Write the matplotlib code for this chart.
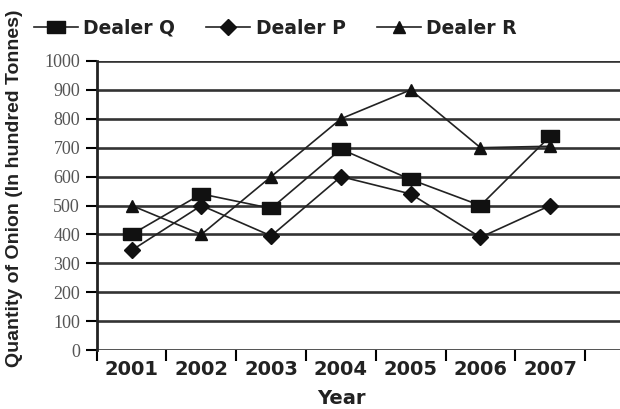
import matplotlib
matplotlib.use("Agg")
import matplotlib.pyplot as plt
from matplotlib.font_manager import FontProperties

years = ["2001", "2002", "2003", "2004", "2005", "2006", "2007"]
dealer_q = [400, 540, 490, 695, 590, 500, 740]
dealer_p = [345, 500, 395, 600, 540, 390, 500]
dealer_r = [500, 400, 600, 800, 900, 700, 705]

W, H = 620, 409
fig = plt.figure(figsize=(6.2, 4.09), dpi=100)
ax = fig.add_axes([0.156, 0.144, 0.844, 0.707])

x = list(range(len(years)))

# horizontal grid lines
for v in range(0, 1001, 100):
    ax.axhline(v, color="#333333", linewidth=1.9, zorder=1)

rect = [(-1.6, -1), (1.6, -1), (1.6, 1), (-1.6, 1), (-1.6, -1)]
ax.plot(x, dealer_q, color="#222222", lw=1.2, marker=rect, ms=13, mfc="#111111",
        mec="#111111", label="Dealer Q", zorder=3)
ax.plot(x, dealer_p, color="#222222", lw=1.2, marker="D", ms=8, mfc="#111111",
        mec="#111111", label="Dealer P", zorder=3)
ax.plot(x, dealer_r, color="#222222", lw=1.2, marker="^", ms=8, mfc="#111111",
        mec="#111111", label="Dealer R", zorder=3)

ax.set_xlim(-0.5, 7.0)
ax.set_ylim(0, 1000)
ax.set_yticks(range(0, 1001, 100))
ax.tick_params(axis="y", length=8, width=1.5, direction="out", pad=4)
for lbl in ax.get_yticklabels():
    lbl.set_family(["Liberation Serif", "DejaVu Serif"])
    lbl.set_fontsize(13)
    lbl.set_color("#555555")

ax.set_xticks([i - 0.5 for i in range(len(years) + 1)])
ax.set_xticklabels([])
ax.set_xticks(x, minor=True)
ax.set_xticklabels(years, minor=True, fontsize=14, fontweight="bold", color="#222222")
ax.tick_params(axis="x", which="major", length=8, width=1.5, direction="out")
ax.tick_params(axis="x", which="minor", length=0, pad=7)

for s in ["top", "right"]:
    ax.spines[s].set_visible(False)
ax.spines["bottom"].set_visible(False)
ax.spines["left"].set_linewidth(2)
ax.spines["left"].set_color("#222222")

# axis titles placed in figure pixels
fig.text(341 / W, 1 - 399 / H, "Year", fontsize=14, fontweight="bold",
         color="#222222", ha="center", va="center")
ylab_font = FontProperties(family="Liberation Sans", weight="bold", size=14)
fig.text(15 / W, 1 - 188 / H, "Quantity of Onion (In hundred Tonnes)",
         fontproperties=ylab_font, color="#222222", rotation=90,
         ha="center", va="center")

fig.legend(loc="upper left", bbox_to_anchor=(0.027, 0.995), ncol=3, frameon=False,
           prop={"weight": "bold", "size": 13.5}, handlelength=2.35,
           columnspacing=1.65, handletextpad=0.3, labelcolor="#222222")

fig.savefig("out.png", dpi=100)
